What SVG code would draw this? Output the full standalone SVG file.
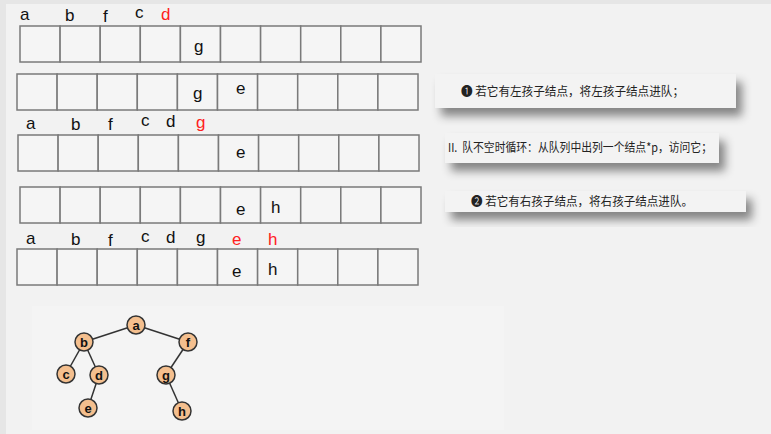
<svg xmlns="http://www.w3.org/2000/svg" width="771" height="434" viewBox="0 0 771 434">
<defs>
<style>
.cell{fill:#f5f5f5;stroke:#7a7a7a;stroke-width:1.5}
.lbl{font-family:"Liberation Sans",Arial,sans-serif;font-size:17px;fill:#111}
.red{fill:#ff2020}
.note{fill:#f3f3f3}
.nt{font-family:"Noto Sans CJK SC","Liberation Sans",sans-serif;font-size:12px;fill:#222}
.tn circle{fill:#f4bf8e;stroke:#333;stroke-width:1.5}
.tn text{font-family:"Liberation Sans",Arial,sans-serif;font-size:13px;font-weight:bold;fill:#111;text-anchor:middle}
.edge{stroke:#333;stroke-width:1.5}
</style>
<filter id="sh" x="-10%" y="-30%" width="125%" height="200%">
<feDropShadow dx="6" dy="8" stdDeviation="5" flood-color="#000" flood-opacity="0.45"/>
</filter>
<g id="q">
<rect class="cell" x="0" y="0" width="40.1" height="36"/>
<rect class="cell" x="40.1" y="0" width="40.1" height="36"/>
<rect class="cell" x="80.2" y="0" width="40.1" height="36"/>
<rect class="cell" x="120.3" y="0" width="40.1" height="36"/>
<rect class="cell" x="160.4" y="0" width="40.1" height="36"/>
<rect class="cell" x="200.5" y="0" width="40.1" height="36"/>
<rect class="cell" x="240.6" y="0" width="40.1" height="36"/>
<rect class="cell" x="280.7" y="0" width="40.1" height="36"/>
<rect class="cell" x="320.8" y="0" width="40.1" height="36"/>
<rect class="cell" x="360.9" y="0" width="40.1" height="36"/>
</g>
</defs>
<rect x="0" y="0" width="771" height="434" fill="#e6e6e6"/>
<rect x="6" y="4" width="765" height="430" fill="#f2f2f2"/>
<rect x="32" y="306" width="472" height="124" fill="#f4f4f4"/>

<g id="queue1">
<use href="#q" x="20" y="26"/>
<text class="lbl" x="20" y="20" font-size="15">a</text>
<text class="lbl" x="65" y="21">b</text>
<text class="lbl" x="103" y="22">f</text>
<text class="lbl" x="135" y="18" font-size="19">c</text>
<text class="lbl red" x="161" y="20" font-size="19">d</text>
<text class="lbl" x="194" y="52" font-size="19">g</text>
</g>

<g id="queue2">
<use href="#q" x="17" y="74"/>
<text class="lbl" x="193" y="99" font-size="19">g</text>
<text class="lbl" x="236" y="94" font-size="19">e</text>
</g>

<g id="queue3">
<use href="#q" x="18" y="135"/>
<text class="lbl" x="26" y="129" font-size="15">a</text>
<text class="lbl" x="71" y="130">b</text>
<text class="lbl" x="108" y="130">f</text>
<text class="lbl" x="141" y="126" font-size="19">c</text>
<text class="lbl" x="166" y="127" font-size="19">d</text>
<text class="lbl red" x="196" y="128" font-size="19">g</text>
<text class="lbl" x="236" y="158" font-size="19">e</text>
</g>

<g id="queue4">
<use href="#q" x="20" y="187"/>
<text class="lbl" x="236" y="215" font-size="19">e</text>
<text class="lbl" x="271" y="213" font-size="19">h</text>
</g>

<g id="queue5">
<use href="#q" x="17" y="249"/>
<text class="lbl" x="26" y="244" font-size="15">a</text>
<text class="lbl" x="71" y="245">b</text>
<text class="lbl" x="108" y="246">f</text>
<text class="lbl" x="141" y="242" font-size="19">c</text>
<text class="lbl" x="166" y="243" font-size="19">d</text>
<text class="lbl" x="196" y="243" font-size="19">g</text>
<text class="lbl red" x="232" y="245" font-size="19">e</text>
<text class="lbl red" x="268" y="245" font-size="19">h</text>
<text class="lbl" x="232" y="277" font-size="19">e</text>
<text class="lbl" x="268" y="275" font-size="19">h</text>
</g>

<g id="note1">
<rect class="note" x="435" y="74" width="301" height="34" filter="url(#sh)"/>
<text class="nt" x="461" y="96" textLength="223" lengthAdjust="spacingAndGlyphs">❶ 若它有左孩子结点，将左孩子结点进队；</text>
</g>
<g id="note2">
<rect class="note" x="445" y="133" width="274" height="30" filter="url(#sh)"/>
<text class="nt" x="448" y="152" font-size="10.5" textLength="264" lengthAdjust="spacingAndGlyphs">II.&#160;&#160;队不空时循环：从队列中出列一个结点*p，访问它；</text>
</g>
<g id="note3">
<rect class="note" x="445" y="191" width="301" height="21" filter="url(#sh)"/>
<text class="nt" x="471" y="206" font-size="11.5" textLength="222" lengthAdjust="spacingAndGlyphs">❷ 若它有右孩子结点，将右孩子结点进队。</text>
</g>

<g id="connectors">
<line class="edge" x1="136" y1="325" x2="84" y2="342"/>
<line class="edge" x1="136" y1="325" x2="188" y2="342"/>
<line class="edge" x1="84" y1="342" x2="66" y2="374"/>
<line class="edge" x1="84" y1="342" x2="99" y2="375"/>
<line class="edge" x1="99" y1="375" x2="88" y2="408"/>
<line class="edge" x1="188" y1="342" x2="166" y2="375"/>
<line class="edge" x1="166" y1="375" x2="182" y2="411"/>
</g>

<g id="node-a" class="tn"><circle cx="136" cy="325" r="9"/><text x="136" y="329.5">a</text></g>
<g id="node-b" class="tn"><circle cx="84" cy="342" r="9"/><text x="84" y="346.5">b</text></g>
<g id="node-f" class="tn"><circle cx="188" cy="342" r="9"/><text x="188" y="346.5">f</text></g>
<g id="node-c" class="tn"><circle cx="66" cy="374" r="9"/><text x="66" y="378.5">c</text></g>
<g id="node-d" class="tn"><circle cx="99" cy="375" r="9"/><text x="99" y="379.5">d</text></g>
<g id="node-g" class="tn"><circle cx="166" cy="375" r="9"/><text x="166" y="379.5">g</text></g>
<g id="node-e" class="tn"><circle cx="88" cy="408" r="9"/><text x="88" y="412.5">e</text></g>
<g id="node-h" class="tn"><circle cx="182" cy="411" r="9"/><text x="182" y="415.5">h</text></g>
</svg>
